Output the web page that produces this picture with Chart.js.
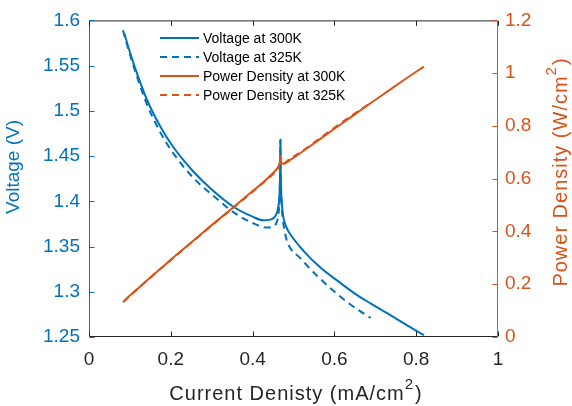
<!DOCTYPE html>
<html lang="en">
<head>
<meta charset="UTF-8" />
<title>Voltage and Power Density</title>
<style>
  body { margin: 0; background: #fff; }
  #wrap { width: 572px; height: 406px; }
</style>
</head>
<body>
<div id="wrap"><canvas id="chart" width="572" height="406"></canvas></div>
<script src="https://cdn.jsdelivr.net/npm/chart.js"></script>
<script>
// values
const current300 = [0.086, 0.100, 0.113, 0.142, 0.174, 0.206, 0.255, 0.300, 0.353, 0.400, 0.426, 0.445, 0.456, 0.462, 0.466, 0.4675, 0.468, 0.4685, 0.470, 0.472, 0.475, 0.482, 0.493, 0.525, 0.565, 0.608, 0.650, 0.689, 0.730, 0.770, 0.819];
const voltage300 = [1.586, 1.565, 1.547, 1.512, 1.483, 1.460, 1.433, 1.413, 1.394, 1.383, 1.379, 1.380, 1.384, 1.392, 1.410, 1.440, 1.468, 1.440, 1.410, 1.395, 1.383, 1.372, 1.363, 1.345, 1.327, 1.312, 1.298, 1.287, 1.276, 1.265, 1.252];
const power300   = [0.136, 0.157, 0.175, 0.215, 0.258, 0.301, 0.365, 0.424, 0.492, 0.553, 0.587, 0.614, 0.631, 0.643, 0.657, 0.673, 0.687, 0.675, 0.663, 0.658, 0.657, 0.661, 0.672, 0.706, 0.750, 0.798, 0.844, 0.887, 0.931, 0.974, 1.025];

const current325 = [0.083, 0.097, 0.110, 0.140, 0.170, 0.200, 0.255, 0.320, 0.353, 0.400, 0.436, 0.450, 0.458, 0.463, 0.466, 0.4675, 0.468, 0.4685, 0.470, 0.474, 0.478, 0.485, 0.517, 0.566, 0.608, 0.645, 0.689];
const voltage325 = [1.589, 1.567, 1.548, 1.509, 1.480, 1.457, 1.426, 1.400, 1.388, 1.376, 1.371, 1.372, 1.376, 1.385, 1.405, 1.440, 1.468, 1.440, 1.405, 1.380, 1.368, 1.355, 1.337, 1.314, 1.297, 1.284, 1.271];
const power325   = [0.132, 0.152, 0.170, 0.211, 0.252, 0.291, 0.364, 0.448, 0.490, 0.550, 0.598, 0.617, 0.630, 0.641, 0.655, 0.673, 0.687, 0.675, 0.660, 0.656, 0.658, 0.668, 0.700, 0.755, 0.802, 0.842, 0.888];

const seriesNames = ['Voltage at 300K', 'Voltage at 325K', 'Power Density at 300K', 'Power Density at 325K'];

const xTicks = [0, 0.2, 0.4, 0.6, 0.8, 1];
const xTickLabels = ['0', '0.2', '0.4', '0.6', '0.8', '1'];
const voltTicks = [1.25, 1.3, 1.35, 1.4, 1.45, 1.5, 1.55, 1.6];
const voltTickLabels = ['1.25', '1.3', '1.35', '1.4', '1.45', '1.5', '1.55', '1.6'];
const powerTicks = [0, 0.2, 0.4, 0.6, 0.8, 1, 1.2];
const powerTickLabels = ['0', '0.2', '0.4', '0.6', '0.8', '1', '1.2'];

const BLUE = '#0072BD', ORANGE = '#D95319', DARK = '#262626';
const FAMILY = "'Liberation Sans', Arial, sans-serif";
const DASH = [7, 5];

function pairs(xs, ys) {
  return xs.map((x, i) => ({ x: x, y: ys[i] }));
}

// text with a superscript part, centred at x
function supText(ctx, pre, sup, post, x, y, size, supSize, rise) {
  ctx.font = size + 'px ' + FAMILY;
  const w1 = ctx.measureText(pre).width;
  const w3 = ctx.measureText(post).width;
  ctx.font = supSize + 'px ' + FAMILY;
  const w2 = ctx.measureText(sup).width + 1;
  let sx = x - (w1 + w2 + w3) / 2;
  ctx.textAlign = 'left';
  ctx.textBaseline = 'alphabetic';
  ctx.font = size + 'px ' + FAMILY;
  ctx.fillText(pre, sx, y);
  ctx.font = supSize + 'px ' + FAMILY;
  ctx.fillText(sup, sx + w1, y - rise);
  ctx.font = size + 'px ' + FAMILY;
  ctx.fillText(post, sx + w1 + w2, y);
}

const frame = {
  id: 'frame',
  afterDraw(chart) {
    const { ctx, chartArea: a, scales } = chart;
    const L = a.left + 0.5, R = a.right - 0.5, T = a.top + 0.5, B = a.bottom - 0.5;
    ctx.save();
    ctx.lineWidth = 1;

    // box
    ctx.strokeStyle = DARK;
    ctx.beginPath();
    ctx.moveTo(L, T); ctx.lineTo(R, T);
    ctx.moveTo(L, B); ctx.lineTo(R, B);
    ctx.stroke();
    ctx.strokeStyle = BLUE;
    ctx.beginPath(); ctx.moveTo(L, T); ctx.lineTo(L, B); ctx.stroke();
    ctx.strokeStyle = ORANGE;
    ctx.beginPath(); ctx.moveTo(R, T); ctx.lineTo(R, B); ctx.stroke();

    // inward tick marks
    ctx.strokeStyle = DARK;
    ctx.beginPath();
    xTicks.forEach(v => {
      const px = Math.round(scales.x.getPixelForValue(v)) + 0.5;
      ctx.moveTo(px, B); ctx.lineTo(px, B - 5);
      ctx.moveTo(px, T); ctx.lineTo(px, T + 5);
    });
    ctx.stroke();
    ctx.strokeStyle = BLUE;
    ctx.beginPath();
    voltTicks.forEach(v => {
      const py = Math.round(scales.y.getPixelForValue(v)) + 0.5;
      ctx.moveTo(L, py); ctx.lineTo(L + 5, py);
    });
    ctx.stroke();
    ctx.strokeStyle = ORANGE;
    ctx.beginPath();
    powerTicks.forEach(v => {
      const py = Math.round(scales.y2.getPixelForValue(v)) + 0.5;
      ctx.moveTo(R, py); ctx.lineTo(R - 5, py);
    });
    ctx.stroke();

    // axis titles
    ctx.letterSpacing = '1px';
    ctx.fillStyle = DARK;
    supText(ctx, 'Current Denisty (mA/cm', '2', ')', 296, 400, 20, 15, 11);

    ctx.save();
    ctx.translate(567, 172);
    ctx.rotate(-Math.PI / 2);
    ctx.fillStyle = ORANGE;
    supText(ctx, 'Power Density (W/cm', '2', ')', 0, 0, 20, 15, 11);
    ctx.restore();
    ctx.letterSpacing = '0px';

    ctx.save();
    ctx.translate(19, 167);
    ctx.rotate(-Math.PI / 2);
    ctx.fillStyle = BLUE;
    ctx.font = '19px ' + FAMILY;
    ctx.textAlign = 'center';
    ctx.textBaseline = 'alphabetic';
    ctx.fillText('Voltage (V)', 0, 0);
    ctx.restore();

    // legend
    const rows = [
      { c: BLUE, d: [] }, { c: BLUE, d: DASH },
      { c: ORANGE, d: [] }, { c: ORANGE, d: DASH }
    ];
    rows.forEach((r, i) => {
      const y = 38 + i * 19;
      ctx.strokeStyle = r.c;
      ctx.lineWidth = 2;
      ctx.setLineDash(r.d);
      ctx.beginPath(); ctx.moveTo(160, y); ctx.lineTo(199, y); ctx.stroke();
      ctx.setLineDash([]);
      ctx.fillStyle = '#000';
      ctx.font = '14px ' + FAMILY;
      ctx.textAlign = 'left';
      ctx.textBaseline = 'middle';
      ctx.fillText(seriesNames[i], 203, y + 1);
    });
    ctx.restore();
  }
};

const tickFont = { family: FAMILY, size: 19 };

new Chart(document.getElementById('chart').getContext('2d'), {
  type: 'line',
  data: {
    datasets: [
      { label: seriesNames[0], data: pairs(current300, voltage300), yAxisID: 'y', borderColor: BLUE, order: 2 },
      { label: seriesNames[1], data: pairs(current325, voltage325), yAxisID: 'y', borderColor: BLUE, borderDash: DASH, order: 3 },
      { label: seriesNames[2], data: pairs(current300, power300), yAxisID: 'y2', borderColor: ORANGE, order: 0 },
      { label: seriesNames[3], data: pairs(current325, power325), yAxisID: 'y2', borderColor: ORANGE, borderDash: DASH, order: 1 }
    ]
  },
  options: {
    responsive: false,
    animation: false,
    devicePixelRatio: 1,
    layout: { padding: { top: 15, left: 0, right: 0, bottom: 0 } },
    elements: {
      point: { radius: 0 },
      line: { borderWidth: 2, cubicInterpolationMode: 'monotone', fill: false }
    },
    plugins: { legend: { display: false }, tooltip: { enabled: false } },
    scales: {
      x: {
        type: 'linear', min: 0, max: 1,
        afterBuildTicks: s => { s.ticks = xTicks.map(v => ({ value: v })); },
        afterFit: s => { s.height = 69; },
        ticks: { font: tickFont, color: DARK, padding: 11, maxRotation: 0, autoSkip: false,
                 callback: (v, i) => xTickLabels[i] },
        grid: { display: false, drawTicks: false },
        border: { display: false }
      },
      y: {
        type: 'linear', position: 'left', min: 1.25, max: 1.6,
        afterBuildTicks: s => { s.ticks = voltTicks.map(v => ({ value: v })); },
        afterFit: s => { s.width = 89; },
        ticks: { font: tickFont, color: BLUE, padding: 9, autoSkip: false,
                 callback: (v, i) => voltTickLabels[i] },
        grid: { display: false, drawTicks: false },
        border: { display: false }
      },
      y2: {
        type: 'linear', position: 'right', min: 0, max: 1.2,
        afterBuildTicks: s => { s.ticks = powerTicks.map(v => ({ value: v })); },
        afterFit: s => { s.width = 74; },
        ticks: { font: tickFont, color: ORANGE, padding: 7, autoSkip: false,
                 callback: (v, i) => powerTickLabels[i] },
        grid: { display: false, drawTicks: false },
        border: { display: false }
      }
    }
  },
  plugins: [frame]
});
</script>
</body>
</html>
